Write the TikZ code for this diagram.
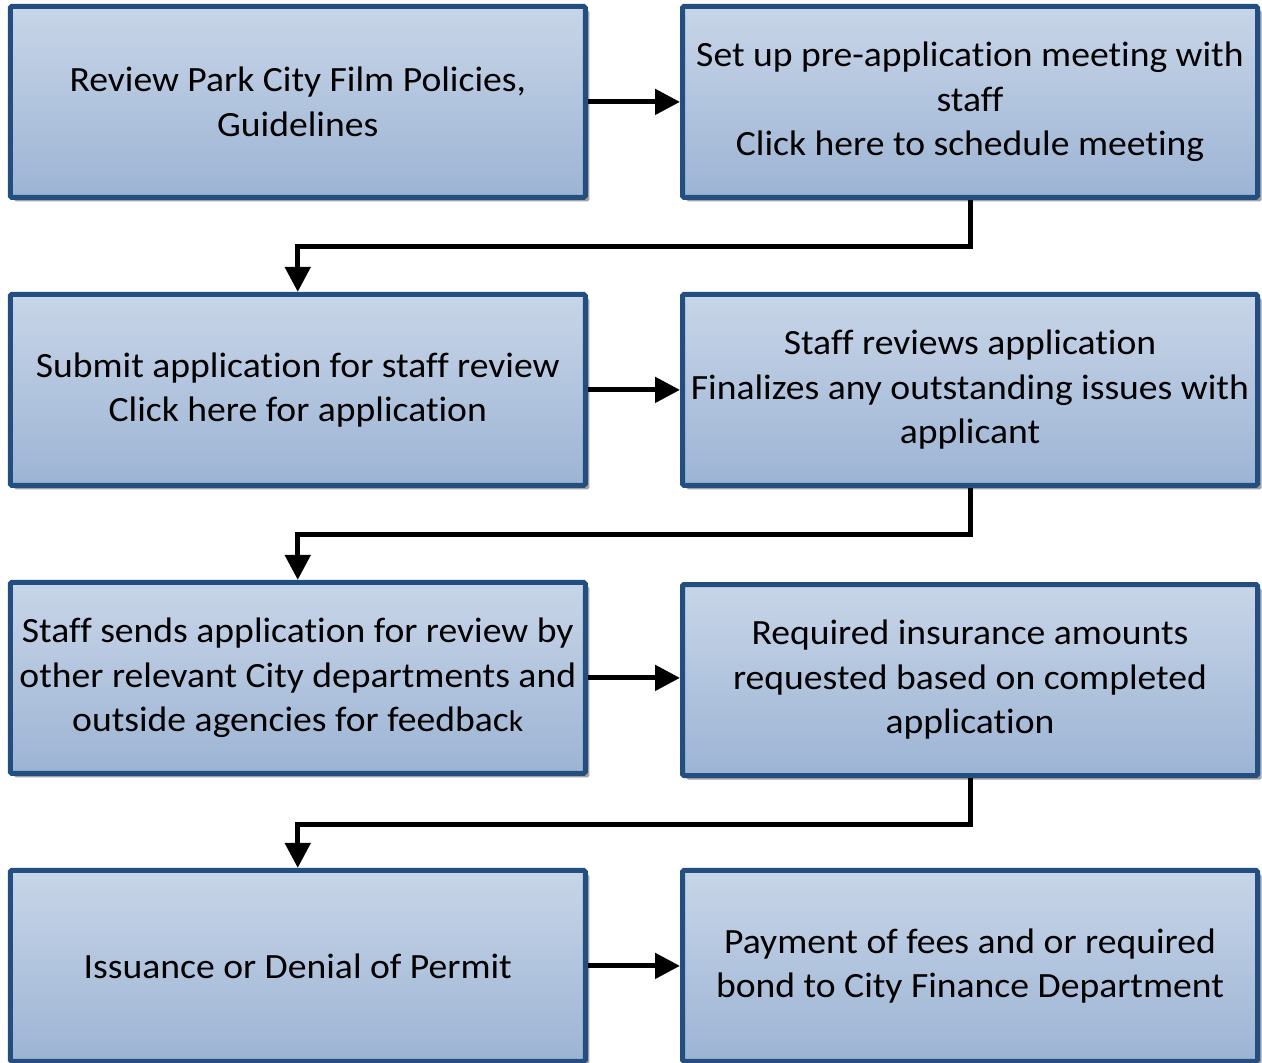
\documentclass[tikz,border=0pt]{standalone}
\usepackage{fontspec}
\setmainfont{Carlito}[FakeStretch=1.06,Ligatures=NoCommon]
\usetikzlibrary{arrows.meta,shadows}
\definecolor{boxborder}{HTML}{244D80}
\definecolor{boxtop}{HTML}{C8D5E8}
\definecolor{boxbot}{HTML}{9CB4D4}
\definecolor{shadowgray}{HTML}{A3A3A3}
\begin{document}
\begin{tikzpicture}[x=1pt,y=-1pt,
  box/.style={draw=boxborder, line width=5pt, rounded corners=1.5pt,
    top color=boxtop, bottom color=boxbot,
    minimum width=575pt, minimum height=191pt, align=center,
    font=\fontsize{35.5}{44.5}\selectfont, inner sep=0pt,
    drop shadow={shadow xshift=4pt, shadow yshift=-4pt, fill=shadowgray, opacity=1}},
  conn/.style={line width=5pt, -{Triangle[length=25pt,width=25pt]}}]
\useasboundingbox (0,0) rectangle (1262,1063);
\node[box] (a1) at (297.75,101.9) {Review Park City Film Policies,\\Guidelines};
\node[box] (b1) at (970,101.9) {Set up pre-application meeting with\\staff\\Click here to schedule meeting};
\node[box] (a2) at (297.75,389.9) {Submit application for staff review\\Click here for application};
\node[box] (b2) at (970,389.9) {Staff reviews application\\Finalizes any outstanding issues with\\applicant};
\node[box] (a3) at (297.75,677.9) {Staff sends application for review by\\other relevant City departments and\\outside agencies for feedbac{\fontsize{30}{44.5}\selectfont k}};
\node[box] (b3) at (970,680) {Required insurance amounts\\requested based on completed\\application};
\node[box] (a4) at (297.75,965.9) {Issuance or Denial of Permit};
\node[box] (b4) at (970,965.9) {Payment of fees and or required\\bond to City Finance Department};
\draw[conn] (a1) -- (b1);
\draw[conn] (a2) -- (b2);
\draw[conn] (a3) -- (a3 -| b3.west);
\draw[conn] (a4) -- (b4);
\draw[conn] (b1.south) -- ++(0,46.5) -| (a2.north);
\draw[conn] (b2.south) -- ++(0,46.5) -| (a3.north);
\draw[conn] (b3.south) -- ++(0,46.5) -| (a4.north);
\end{tikzpicture}
\end{document}
